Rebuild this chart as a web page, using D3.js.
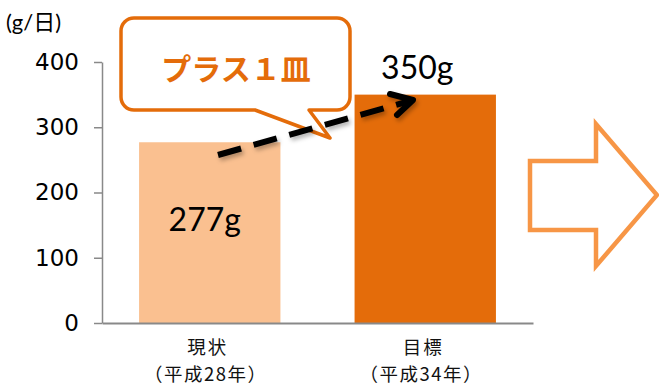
<!DOCTYPE html>
<html>
<head>
<meta charset="utf-8">
<script src="https://cdn.jsdelivr.net/npm/d3@7"></script>
<style>
  html, body { margin: 0; padding: 0; background: #fff; }
  svg { display: block; }
</style>
</head>
<body>
<svg id="chart" width="659" height="385"></svg>
<script>
// Vegetable intake per day: current vs. target
const categories = ["現状", "目標"];
const periods = ["（平成28年）", "（平成34年）"];
const values = [277, 350];
const valueLabels = ["277g", "350g"];
const tickValues = [0, 100, 200, 300, 400];
const unitLabel = "(g/日)";
const calloutText = "プラス１皿";

const barColors = ["#FAC090", "#E46C0A"];
const axisColor = "#898989";

const svg = d3.select("#chart");

const y = d3.scaleLinear().domain([0, 400]).range([323, 62]);
const x = d3.scaleBand().domain(categories).range([102, 533])
  .paddingInner(0.344).paddingOuter(0.172);

// bars
svg.append("g").selectAll("rect").data(categories).join("rect")
  .attr("x", d => x(d))
  .attr("width", x.bandwidth())
  .attr("y", (d, i) => y(values[i]))
  .attr("height", (d, i) => y(0) - y(values[i]))
  .attr("fill", (d, i) => barColors[i]);

// y axis
const yAxis = svg.append("g")
  .attr("transform", "translate(102,0)")
  .call(d3.axisLeft(y).tickValues(tickValues).tickSize(8).tickSizeOuter(0).tickPadding(15));
yAxis.select(".domain").attr("stroke", axisColor).attr("stroke-width", 1.5);
yAxis.selectAll(".tick line").attr("stroke", axisColor).attr("stroke-width", 1.5);
yAxis.selectAll(".tick text")
  .attr("fill", "#000")
  .style("font-family", "'DejaVu Sans', sans-serif")
  .style("font-size", "23px");

// x axis
const xAxis = svg.append("g")
  .attr("transform", "translate(0,323)")
  .call(d3.axisBottom(x).tickSize(0).tickSizeOuter(0).tickFormat(""));
xAxis.select(".domain").attr("stroke", axisColor).attr("stroke-width", 2);

const catFont = "'Noto Sans CJK JP', sans-serif";
const catLabels = svg.append("g");
catLabels.selectAll("text.cat").data(categories).join("text")
  .attr("class", "cat")
  .attr("x", d => x(d) + x.bandwidth() / 2 - 2)
  .attr("y", 354)
  .attr("text-anchor", "middle")
  .style("font-family", catFont)
  .style("font-size", "18.5px")
  .style("letter-spacing", "2px")
  .attr("fill", "#111")
  .text(d => d);
catLabels.selectAll("text.period").data(periods).join("text")
  .attr("class", "period")
  .attr("x", (d, i) => x(categories[i]) + x.bandwidth() / 2 - 4)
  .attr("y", 381)
  .attr("text-anchor", "middle")
  .style("font-family", catFont)
  .style("font-size", "18.5px")
  .style("letter-spacing", "1.5px")
  .attr("fill", "#111")
  .text(d => d);

// unit label
svg.append("text")
  .attr("x", 6).attr("y", 30)
  .style("font-family", "Lato, 'Noto Sans CJK JP', sans-serif")
  .style("font-size", "22px")
  .text(unitLabel);

// value labels
const valFont = "Lato, sans-serif";
svg.append("text")
  .attr("x", x(categories[0]) + x.bandwidth() / 2 - 5)
  .attr("y", 231)
  .attr("text-anchor", "middle")
  .style("font-family", valFont)
  .style("font-size", "32px")
  .text(valueLabels[0]);
svg.append("text")
  .attr("x", x(categories[1]) + x.bandwidth() / 2 - 8)
  .attr("y", 79)
  .attr("text-anchor", "middle")
  .style("font-family", valFont)
  .style("font-size", "32px")
  .text(valueLabels[1]);

// callout bubble with tail
const bx0 = 121, by0 = 18, bx1 = 350, by1 = 110, r = 13;
const bubble = d3.path();
bubble.moveTo(bx0 + r, by0);
bubble.lineTo(bx1 - r, by0);
bubble.arcTo(bx1, by0, bx1, by0 + r, r);
bubble.lineTo(bx1, by1 - r);
bubble.arcTo(bx1, by1, bx1 - r, by1, r);
bubble.lineTo(309, by1);
bubble.lineTo(330, 138);
bubble.lineTo(255, by1);
bubble.lineTo(bx0 + r, by1);
bubble.arcTo(bx0, by1, bx0, by1 - r, r);
bubble.lineTo(bx0, by0 + r);
bubble.arcTo(bx0, by0, bx0 + r, by0, r);
bubble.closePath();

// soft shadow for the dashed arrow
const defs = svg.append("defs");
const shadow = defs.append("filter").attr("id", "soft").attr("x", "-20%").attr("y", "-50%")
  .attr("width", "140%").attr("height", "200%");
shadow.append("feDropShadow").attr("dx", 2).attr("dy", 3).attr("stdDeviation", 2)
  .attr("flood-color", "#000").attr("flood-opacity", 0.3);

svg.append("path")
  .attr("d", bubble.toString())
  .attr("fill", "#fff")
  .attr("stroke", "#E46C0A")
  .attr("stroke-width", 3.5)
  .attr("stroke-linejoin", "round");

svg.append("text")
  .attr("x", 236).attr("y", 80)
  .attr("text-anchor", "middle")
  .attr("fill", "#E46C0A")
  .style("font-family", catFont)
  .style("font-weight", "bold")
  .style("font-size", "30px")
  .text(calloutText);

// dashed arrow from current to target
const arrowG = svg.append("g").attr("filter", "url(#soft)");
arrowG.append("line")
  .attr("x1", 218).attr("y1", 155)
  .attr("x2", 410).attr("y2", 101)
  .attr("stroke", "#000")
  .attr("stroke-width", 6)
  .attr("stroke-dasharray", "24,13");
arrowG.append("path")
  .attr("d", "M390,94 L413,100 L397,115")
  .attr("fill", "none")
  .attr("stroke", "#000")
  .attr("stroke-width", 6)
  .attr("stroke-linecap", "round")
  .attr("stroke-linejoin", "round");

// block arrow pointing right
const blockArrow = [
  [530, 161], [596, 161], [596, 124], [657, 195],
  [596, 266], [596, 230], [530, 230]
];
svg.append("path")
  .attr("d", d3.line()(blockArrow) + "Z")
  .attr("fill", "#fff")
  .attr("stroke", "#F79646")
  .attr("stroke-width", 4.5);
</script>
</body>
</html>
